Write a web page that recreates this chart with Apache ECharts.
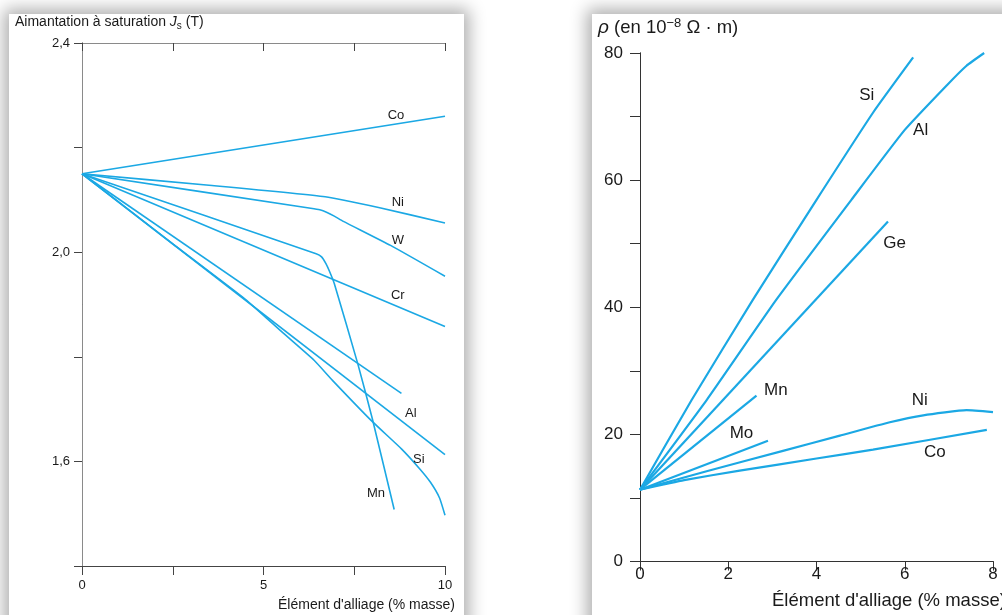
<!DOCTYPE html>
<html>
<head>
<meta charset="utf-8">
<style>
html,body{margin:0;padding:0;background:#fff;width:1002px;height:615px;overflow:hidden}
.panel{position:absolute;background:#fff;box-shadow:0 0 16px 5px rgba(0,0,0,0.32)}
#p1{left:9px;top:14px;width:455px;height:660px}
#p2{left:592px;top:14px;width:460px;height:660px}
#chart{position:absolute;left:0;top:0;width:1002px;height:615px}
</style>
<script src="https://cdn.jsdelivr.net/npm/echarts@6/dist/echarts.min.js"></script>
</head>
<body>
<div class="panel" id="p1"></div>
<div class="panel" id="p2"></div>
<div id="chart"></div>
<script>
// ---------- Left chart: saturation magnetisation Js (T) vs alloying element (% mass)
const jsXTicks = [0, 5, 10];
const jsYTicks = [1.6, 2.0, 2.4];
const jsCo = [[0, 2.15], [10, 2.26]];
const jsNi = [[0, 2.15], [3.5, 2.128], [6.7, 2.106], [8.2, 2.085], [10, 2.056]];
const jsW = [[0, 2.15], [6.3, 2.084], [6.55, 2.081], [6.75, 2.076], [6.95, 2.069], [7.2, 2.059], [8.5, 2.013], [10, 1.954]];
const jsCr = [[0, 2.15], [10, 1.858]];
const jsOther = [[0, 2.15], [8.8, 1.73]];
const jsAl = [[0, 2.15], [10, 1.613]];
const jsSi = [[0, 2.15], [2.5, 2.016], [4.5, 1.91], [5.5, 1.848], [6.4, 1.793], [6.9, 1.755], [8.0, 1.676], [8.8, 1.624], [9.3, 1.586], [9.6, 1.56], [9.85, 1.53], [10, 1.497]];
const jsMn = [[0, 2.15], [6.45, 1.997], [6.6, 1.991], [6.72, 1.978], [6.82, 1.963], [6.95, 1.94], [7.6, 1.786], [8.0, 1.681], [8.6, 1.508]];
const jsLabelNames = ['Co', 'Ni', 'W', 'Cr', 'Al', 'Si', 'Mn'];

// ---------- Right chart: resistivity rho (1e-8 ohm.m) vs alloying element (% mass)
const rhoXTicks = [0, 2, 4, 6, 8];
const rhoYTicks = [0, 20, 40, 60, 80];
const rhoSi = [[0, 11.3], [1.17, 25.4], [2.56, 41.2], [4.0, 56.9], [5.28, 70.6], [6.19, 79.3]];
const rhoAl = [[0, 11.3], [1.51, 25.4], [3.09, 41.2], [4.79, 56.9], [6.0, 67.9], [6.95, 74.9], [7.4, 78.0], [7.8, 80]];
const rhoGe = [[0, 11.3], [5.62, 53.5]];
const rhoMn = [[0, 11.3], [2.64, 26.1]];
const rhoMo = [[0, 11.3], [2.9, 19.0]];
const rhoNi = [[0, 11.3], [1.51, 14.2], [3.24, 17.4], [4.53, 19.8], [5.66, 21.9], [6.42, 23.0], [7.4, 23.8], [8.0, 23.5]];
const rhoCo = [[0, 11.3], [1.0, 12.8], [2.26, 14.3], [4.0, 16.2], [5.28, 17.6], [7.86, 20.7]];
const rhoLabelNames = ['Si', 'Al', 'Ge', 'Mn', 'Mo', 'Ni', 'Co'];

// ---------- Layout (label anchors in data units, styles)
const jsLabelAnchors = [[8.65, 2.262], [8.7, 2.096], [8.7, 2.023], [8.7, 1.918], [9.06, 1.692], [9.28, 1.604], [8.1, 1.539]];
const rhoLabelAnchors = [[5.14, 73.3], [6.36, 67.8], [5.77, 50.1], [3.08, 26.9], [2.3, 20.1], [6.34, 25.3], [6.68, 17.1]];

const BLUE = '#1ba8e4';
const FONT = '"Liberation Sans", Arial, Helvetica, sans-serif';
const TXT = '#1a1a1a';

function near(v, list) { return list.some(t => Math.abs(t - v) < 1e-6); }

function lineSeries(name, data, xi, yi, width, smooth) {
  return {
    name: name, type: 'line', xAxisIndex: xi, yAxisIndex: yi, data: data,
    showSymbol: false, symbol: 'none', smooth: smooth ? 0.15 : false, silent: true,
    lineStyle: { color: BLUE, width: width }, z: 3
  };
}
function labelSeries(names, anchors, xi, yi, size) {
  return {
    type: 'scatter', xAxisIndex: xi, yAxisIndex: yi, symbolSize: 0, silent: true, z: 5,
    itemStyle: { color: TXT, opacity: 1 },
    data: names.map((n, i) => ({ name: n, value: anchors[i] })),
    label: { show: true, position: 'inside', formatter: p => p.name, color: TXT, opacity: 1,
      fontSize: size, fontFamily: FONT, textBorderWidth: 0 }
  };
}

const chart = echarts.init(document.getElementById('chart'), null, { renderer: 'canvas' });

const leftAxisColor = '#444';
const leftBoxColor = '#8a8a8a';
const rightAxisColor = '#333';

const option = {
  backgroundColor: 'transparent',
  animation: false,
  grid: [
    { left: 82, top: 43, width: 363, height: 523 },
    { left: 640, top: 53, width: 353, height: 508.5 }
  ],
  xAxis: [
    { gridIndex: 0, type: 'value', min: 0, max: 10, interval: 2.5, position: 'bottom',
      axisLine: { lineStyle: { color: leftAxisColor, width: 1 } },
      axisTick: { inside: false, length: 9, lineStyle: { color: leftAxisColor } },
      axisLabel: { margin: 13, fontSize: 13, color: TXT, fontFamily: FONT,
        formatter: v => near(v, jsXTicks) ? String(v) : '' },
      splitLine: { show: false } },
    { gridIndex: 0, type: 'value', min: 0, max: 10, interval: 2.5, position: 'top',
      axisLine: { lineStyle: { color: leftBoxColor, width: 1 } },
      axisTick: { inside: true, length: 8, lineStyle: { color: leftAxisColor } },
      axisLabel: { show: false }, splitLine: { show: false } },
    { gridIndex: 1, type: 'value', min: 0, max: 8, interval: 2, position: 'bottom',
      axisLine: { lineStyle: { color: rightAxisColor, width: 1 } },
      axisTick: { inside: false, length: 4, lineStyle: { color: rightAxisColor } },
      axisLabel: { margin: 4, fontSize: 17, color: TXT, fontFamily: FONT,
        formatter: v => near(v, rhoXTicks) ? String(v) : '' },
      splitLine: { show: false } },
    { gridIndex: 1, type: 'value', min: 0, max: 8, interval: 2, position: 'top',
      axisLine: { lineStyle: { color: rightAxisColor, width: 1 } },
      axisTick: { inside: true, length: 9, lineStyle: { color: rightAxisColor } },
      axisLabel: { show: false }, splitLine: { show: false } }
  ],
  yAxis: [
    { gridIndex: 0, type: 'value', min: 1.4, max: 2.4, interval: 0.2, position: 'left',
      axisLine: { lineStyle: { color: leftAxisColor, width: 1 } },
      axisTick: { inside: false, length: 8, lineStyle: { color: leftAxisColor } },
      axisLabel: { margin: 12, fontSize: 13, color: TXT, fontFamily: FONT,
        formatter: v => near(v, jsYTicks) ? v.toFixed(1).replace('.', ',') : '' },
      splitLine: { show: false } },
    { gridIndex: 0, type: 'value', min: 1.4, max: 2.4, interval: 0.2, position: 'right',
      axisLine: { lineStyle: { color: leftBoxColor, width: 1 } },
      axisTick: { inside: true, length: 8, lineStyle: { color: leftAxisColor } },
      axisLabel: { show: false }, splitLine: { show: false } },
    { gridIndex: 1, type: 'value', min: 0, max: 80, interval: 10, position: 'left',
      axisLine: { lineStyle: { color: rightAxisColor, width: 1 } },
      axisTick: { inside: false, length: 10, lineStyle: { color: rightAxisColor } },
      axisLabel: { margin: 17, fontSize: 17, color: TXT, fontFamily: FONT,
        formatter: v => near(v, rhoYTicks) ? String(v) : '' },
      splitLine: { show: false } },
    { gridIndex: 1, type: 'value', min: 0, max: 80, interval: 10, position: 'right',
      axisLine: { lineStyle: { color: rightAxisColor, width: 1 } },
      axisTick: { inside: true, length: 6, lineStyle: { color: rightAxisColor } },
      axisLabel: { show: false }, splitLine: { show: false } }
  ],
  graphic: [
    { type: 'text', left: 15, top: 15, z: 10,
      style: { text: 'Aimantation à saturation {i|J}{sub|s} (T)', fill: TXT, font: '14px ' + FONT,
        rich: { i: { fontStyle: 'italic', fontSize: 14, fontFamily: FONT, fill: TXT },
                sub: { fontSize: 10, fontFamily: FONT, fill: TXT, padding: [9, 0, 0, 0] } } } },
    { type: 'text', right: 547, top: 598, z: 10,
      style: { text: "Élément d'alliage (% masse)", fill: TXT, font: '14px ' + FONT } },
    { type: 'text', left: 598, top: 17, z: 10,
      style: { text: '{i|ρ} (en 10{sup|−8} Ω · m)', fill: TXT, font: '18.5px ' + FONT,
        rich: { i: { fontStyle: 'italic', fontSize: 19, fontFamily: FONT, fill: TXT },
                sup: { fontSize: 13, fontFamily: FONT, fill: TXT, padding: [0, 0, 8, 0] } } } },
    { type: 'text', left: 772, top: 591, z: 10,
      style: { text: "Élément d'alliage (% masse)", fill: TXT, font: '18.5px ' + FONT } }
  ],
  series: [
    lineSeries('Co', jsCo, 0, 0, 1.6, false),
    lineSeries('Ni', jsNi, 0, 0, 1.6, true),
    lineSeries('W', jsW, 0, 0, 1.6, true),
    lineSeries('Cr', jsCr, 0, 0, 1.6, false),
    lineSeries('autre', jsOther, 0, 0, 1.6, false),
    lineSeries('Al', jsAl, 0, 0, 1.6, false),
    lineSeries('Si', jsSi, 0, 0, 1.6, true),
    lineSeries('Mn', jsMn, 0, 0, 1.6, true),
    labelSeries(jsLabelNames, jsLabelAnchors, 0, 0, 13),
    lineSeries('Si', rhoSi, 2, 2, 2.2, true),
    lineSeries('Al', rhoAl, 2, 2, 2.2, true),
    lineSeries('Ge', rhoGe, 2, 2, 2.2, false),
    lineSeries('Mn', rhoMn, 2, 2, 2.2, false),
    lineSeries('Mo', rhoMo, 2, 2, 2.2, false),
    lineSeries('Ni', rhoNi, 2, 2, 2.2, true),
    lineSeries('Co', rhoCo, 2, 2, 2.2, true),
    labelSeries(rhoLabelNames, rhoLabelAnchors, 2, 2, 17)
  ]
};
chart.setOption(option);
</script>
</body>
</html>
